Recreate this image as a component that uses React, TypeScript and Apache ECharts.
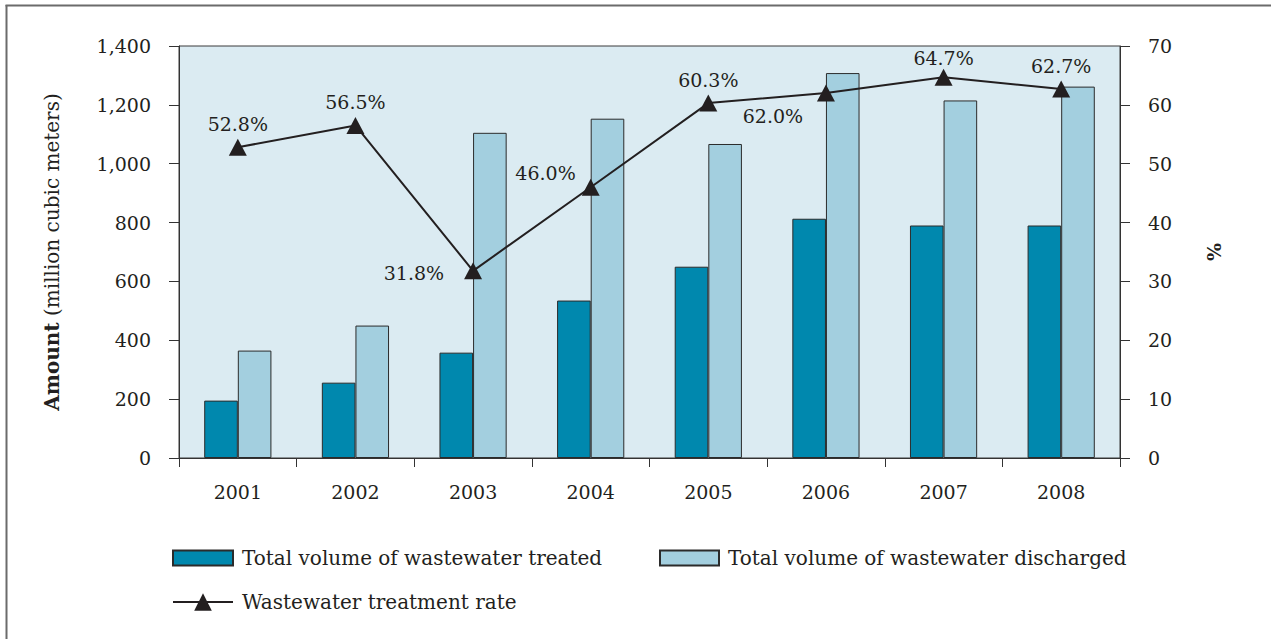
import React, { useEffect, useRef } from 'react';
import * as echarts from 'echarts';

const years = ['2001', '2002', '2003', '2004', '2005', '2006', '2007', '2008'];
const treated = [195, 256, 358, 535, 650, 813, 790, 790];
const discharged = [365, 450, 1105, 1153, 1067, 1308, 1215, 1262];
const rate = [52.8, 56.5, 31.8, 46.0, 60.3, 62.0, 64.7, 62.7];
const leftTicks = [0, 1400, 200];
const rightTicks = [0, 70, 10];

const nameTreated = 'Total volume of wastewater treated';
const nameDischarged = 'Total volume of wastewater discharged';
const nameRate = 'Wastewater treatment rate';

const FONT = 'DejaVu Serif';
const INK = '#231f20';

export default function App() {
  const ref = useRef<HTMLDivElement>(null);
  useEffect(() => {
    const chart = echarts.init(ref.current!, null, { renderer: 'svg' });
    const labelPlace: any[] = [
      { position: 'top', distance: 5 },
      { position: 'top', distance: 5 },
      { position: 'left', distance: 20, offset: [0, 2] },
      { position: 'left', distance: 6, offset: [0, -14] },
      { position: 'top', distance: 5 },
      { position: 'bottom', distance: 5, offset: [-53, 0] },
      { position: 'top', distance: 1 },
      { position: 'top', distance: 5 },
    ];
    const textBase = { fontFamily: FONT, fontSize: 19, color: INK };
    const legendText = { fontFamily: FONT, fontSize: 20, color: INK, padding: [0, 0, 0, 4] };
    chart.setOption({
      animation: false,
      backgroundColor: '#fff',
      textStyle: { fontFamily: FONT, color: INK },
      grid: {
        left: 179,
        right: 151,
        top: 46,
        bottom: 181,
        show: true,
        backgroundColor: '#dbebf2',
        borderColor: '#3a3a3a',
        borderWidth: 1,
      },
      legend: [
        {
          data: [{ name: nameTreated, icon: 'rect' }],
          left: 172,
          top: 548,
          padding: 0,
          itemWidth: 60,
          itemHeight: 15,
          textStyle: legendText,
          selectedMode: false,
        },
        {
          data: [{ name: nameDischarged, icon: 'rect' }],
          left: 659,
          top: 548,
          padding: 0,
          itemWidth: 59,
          itemHeight: 15,
          textStyle: legendText,
          selectedMode: false,
        },
        {
          data: [nameRate],
          left: 172,
          top: 592,
          padding: 0,
          itemWidth: 60,
          itemHeight: 22,
          textStyle: legendText,
          selectedMode: false,
        },
      ],
      xAxis: {
        type: 'category',
        data: years,
        axisLine: { lineStyle: { color: '#333', width: 1 } },
        axisTick: { show: true, length: 9, lineStyle: { color: '#333' } },
        axisLabel: { ...textBase, margin: 24 },
      },
      yAxis: [
        {
          type: 'value',
          min: leftTicks[0],
          max: leftTicks[1],
          interval: leftTicks[2],
          position: 'left',
          name: '{b|Amount} (million cubic meters)',
          nameLocation: 'middle',
          nameRotate: 90,
          nameGap: 117,
          nameTextStyle: {
            fontFamily: FONT,
            fontSize: 20,
            color: INK,
            rich: {
              b: { fontFamily: FONT, fontSize: 20, color: INK, fontWeight: 'bold' },
            },
          },
          axisLine: { show: true, lineStyle: { color: '#333' } },
          axisTick: { show: true, length: 10, lineStyle: { color: '#333' } },
          axisLabel: {
            ...textBase,
            margin: 28,
            formatter: (v: number) => v.toLocaleString('en-US'),
          },
          splitLine: { show: false },
        },
        {
          type: 'value',
          min: rightTicks[0],
          max: rightTicks[1],
          interval: rightTicks[2],
          position: 'right',
          name: '%',
          nameLocation: 'middle',
          nameRotate: 90,
          nameGap: 84,
          nameTextStyle: { ...textBase, fontWeight: 'bold' },
          axisLine: { show: true, lineStyle: { color: '#333' } },
          axisTick: { show: true, length: 10, lineStyle: { color: '#333' } },
          axisLabel: { ...textBase, margin: 28 },
          splitLine: { show: false },
        },
      ],
      series: [
        {
          name: nameTreated,
          type: 'bar',
          data: treated,
          barWidth: 33.6,
          barGap: '0%',
          itemStyle: { color: '#0088ae', borderColor: '#2b2b2b', borderWidth: 1 },
        },
        {
          name: nameDischarged,
          type: 'bar',
          data: discharged,
          barWidth: 33.6,
          barGap: '0%',
          itemStyle: { color: '#a3cfdf', borderColor: '#2b2b2b', borderWidth: 1 },
        },
        {
          name: nameRate,
          type: 'line',
          yAxisIndex: 1,
          symbol: 'triangle',
          symbolSize: [18, 17],
          lineStyle: { color: INK, width: 2 },
          itemStyle: { color: INK },
          data: rate.map((v, i) => ({
            value: v,
            label: {
              show: true,
              ...textBase,
              formatter: (p: any) => p.value.toFixed(1) + '%',
              ...labelPlace[i],
            },
          })),
        },
      ],
      graphic: [
        {
          type: 'line',
          shape: { x1: 6.5, y1: 5, x2: 6.5, y2: 639 },
          style: { stroke: '#6b6b6b', lineWidth: 2 },
        },
        {
          type: 'line',
          shape: { x1: 5.5, y1: 5.5, x2: 1271, y2: 5.5 },
          style: { stroke: '#6b6b6b', lineWidth: 2 },
        },
      ],
    });
    return () => chart.dispose();
  }, []);
  return (
    <div
      ref={ref}
      style={{ position: 'fixed', left: 0, top: 0, width: 1271, height: 639, background: '#fff' }}
    />
  );
}
